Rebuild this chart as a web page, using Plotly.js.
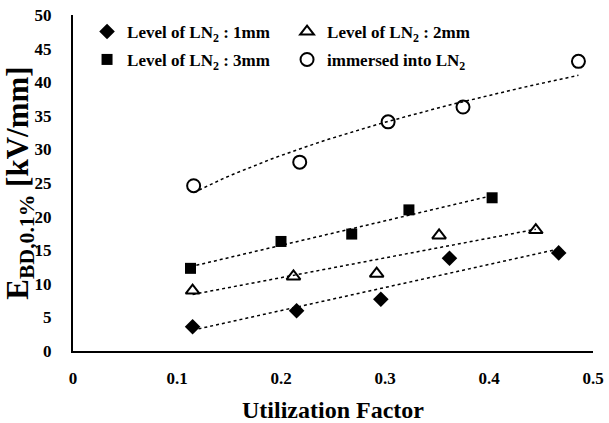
<!DOCTYPE html>
<html>
<head>
<meta charset="utf-8">
<script src="https://cdn.plot.ly/plotly-3.0.1.min.js"></script>
<style>html,body{margin:0;padding:0;background:#fff;}#chart{width:609px;height:423px;}</style>
</head>
<body>
<div id="chart"></div>
<script>
// Data
const names = ['Level of LN<sub>2</sub> : 1mm', 'Level of LN<sub>2</sub> : 2mm', 'Level of LN<sub>2</sub> : 3mm', 'immersed into LN<sub>2</sub>'];
const x1mm = [0.115, 0.215, 0.296, 0.362, 0.467];
const y1mm = [3.6, 6.0, 7.7, 13.8, 14.6];
const x2mm = [0.115, 0.212, 0.292, 0.352, 0.445];
const y2mm = [9.0, 11.1, 11.5, 17.2, 18.0];
const x3mm = [0.113, 0.2, 0.268, 0.323, 0.403];
const y3mm = [12.3, 16.3, 17.4, 21.0, 22.8];
const xImm = [0.116, 0.218, 0.303, 0.375, 0.486];
const yImm = [24.6, 28.1, 34.1, 36.3, 43.1];
const xTicks = [0, 0.1, 0.2, 0.3, 0.4, 0.5];
const xTickText = ['0', '0.1', '0.2', '0.3', '0.4', '0.5'];
const yTicks = [0, 5, 10, 15, 20, 25, 30, 35, 40, 45, 50];

function linFit(xs, ys) {
  const n = xs.length;
  const mx = xs.reduce((a,b)=>a+b,0)/n, my = ys.reduce((a,b)=>a+b,0)/n;
  let sxy=0, sxx=0;
  for (let i=0;i<n;i++){ sxy+=(xs[i]-mx)*(ys[i]-my); sxx+=(xs[i]-mx)**2; }
  const b = sxy/sxx, a = my-b*mx;
  return x => a + b*x;
}
function powFit(xs, ys) {
  const f = linFit(xs.map(Math.log), ys.map(Math.log));
  return x => Math.exp(f(Math.log(x)));
}
function trend(xs, f) {
  const lo = Math.min(...xs), hi = Math.max(...xs);
  const tx = [], ty = [];
  for (let i=0;i<=40;i++){ const x = lo+(hi-lo)*i/40; tx.push(x); ty.push(f(x)); }
  return {x: tx, y: ty, mode: 'lines', line: {color: '#000', width: 1.5, dash: 'dot'}, showlegend: false, hoverinfo: 'skip'};
}

const sets = [
  {x: x1mm, y: y1mm, sym: 'diamond', size: 12, lw: 0, fit: linFit, lg: 'legend'},
  {x: x2mm, y: y2mm, sym: 'triangle-up-open', size: 12, lw: 2, fit: linFit, lg: 'legend'},
  {x: x3mm, y: y3mm, sym: 'square', size: 11, lw: 0, fit: linFit, lg: 'legend2'},
  {x: xImm, y: yImm, sym: 'circle-open', size: 13, lw: 2, fit: powFit, lg: 'legend2'}
];
const traces = [];
sets.forEach(s => traces.push(trend(s.x, s.fit(s.x, s.y))));
sets.forEach((s, i) => {
  traces.push({
    x: s.x, y: s.y, mode: 'markers', name: '<b>' + names[i] + '</b>', legend: s.lg,
    marker: {symbol: s.sym, size: s.size, color: '#000', line: {color: '#000', width: s.lw}}
  });
});

const font = {family: '"Liberation Serif", "Times New Roman", serif', color: '#000'};
const legendBase = {
  orientation: 'h', x: 0.027, xanchor: 'left', yanchor: 'top',
  entrywidth: 155, font: Object.assign({size: 17}, font), bgcolor: 'rgba(0,0,0,0)'
};
const layout = {
  width: 609, height: 423,
  margin: {l: 73, r: 16, t: 15, b: 72},
  paper_bgcolor: '#fff', plot_bgcolor: '#fff',
  font: Object.assign({size: 17}, font),
  showlegend: true,
  legend: Object.assign({y: 1.003}, legendBase),
  legend2: Object.assign({y: 0.92}, legendBase),
  xaxis: {
    range: [0, 0.5], tickvals: xTicks, ticktext: xTickText.map(t => '<b>' + t + '</b>'),
    showgrid: false, zeroline: false, showline: true, linecolor: '#000', linewidth: 2,
    ticks: '', ticklabelstandoff: 11, tickfont: Object.assign({size: 17}, font),
    title: {text: '<b>Utilization Factor</b>', font: Object.assign({size: 24}, font), standoff: 14}
  },
  yaxis: {
    range: [0, 50], tickvals: yTicks, ticktext: yTicks.map(t => '<b>' + t + '</b>'),
    showgrid: false, zeroline: false, showline: true, linecolor: '#000', linewidth: 2,
    ticks: '', ticklabelstandoff: 16, tickfont: Object.assign({size: 17}, font),
    title: {text: '<b>E<sub>BD,0.1%</sub> [kV/mm]</b>', font: Object.assign({size: 31}, font), standoff: 2}
  }
};
Plotly.newPlot('chart', traces, layout, {displayModeBar: false, staticPlot: true});
</script>
</body>
</html>
